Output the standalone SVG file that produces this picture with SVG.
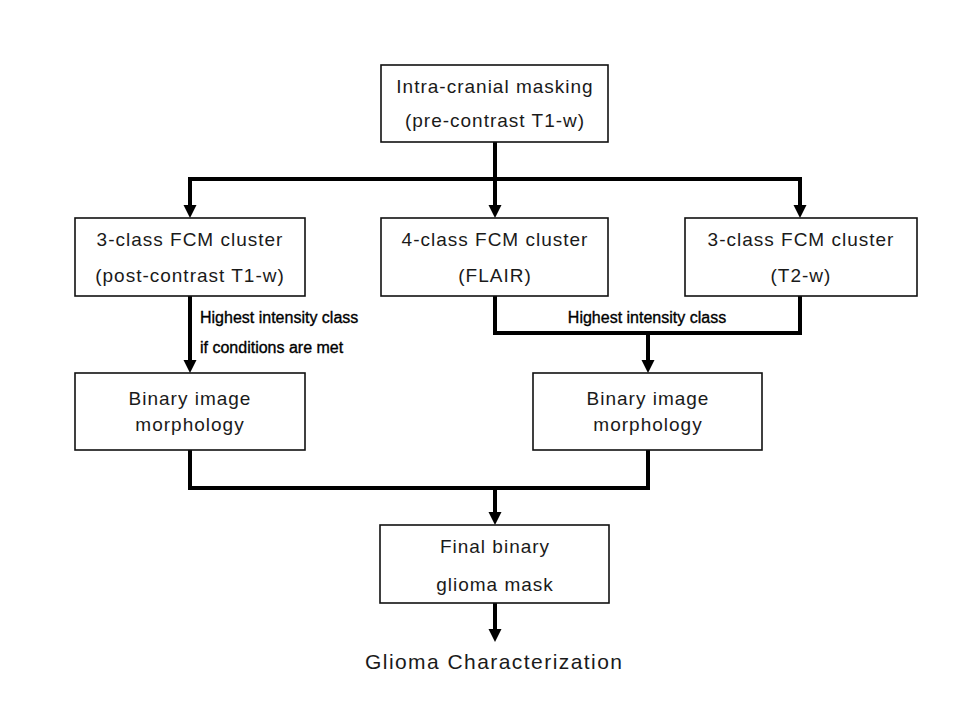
<svg xmlns="http://www.w3.org/2000/svg" width="979" height="727" viewBox="0 0 979 727">
<style>
.box{fill:#fff;stroke:#111;stroke-width:1.6}
.t{font-family:"Liberation Sans",Arial,sans-serif;font-size:19px;letter-spacing:1px;fill:#1a1a1a;text-anchor:middle}
.lbl{font-family:"Liberation Sans",Arial,sans-serif;font-size:16px;fill:#000;stroke:#000;stroke-width:0.35}
.c{fill:none;stroke:#000;stroke-width:4;stroke-linejoin:miter;stroke-linecap:square}
.ah{fill:#000}
</style>
<rect width="979" height="727" fill="#fff"/>
<g id="connectors">
<path class="c" d="M495,142 V179"/>
<path class="c" d="M190,179 H800"/>
<path class="c" d="M190,179 V206"/>
<path class="c" d="M495,179 V206"/>
<path class="c" d="M800,179 V206"/>
<path class="c" d="M190,296 V361"/>
<path class="c" d="M495,296 V333 H800 V296"/>
<path class="c" d="M648,333 V361"/>
<path class="c" d="M190,450 V488 H648 V450"/>
<path class="c" d="M495,488 V513"/>
<path class="c" d="M495,603 V630"/>
<polygon class="ah" points="183.5,205 196.5,205 190,218"/>
<polygon class="ah" points="488.5,205 501.5,205 495,218"/>
<polygon class="ah" points="793.5,205 806.5,205 800,218"/>
<polygon class="ah" points="183.5,360 196.5,360 190,373"/>
<polygon class="ah" points="641.5,360 654.5,360 648,373"/>
<polygon class="ah" points="488.5,512 501.5,512 495,525"/>
<polygon class="ah" points="488.5,629 501.5,629 495,642"/>
<text class="lbl" x="200" y="323">Highest intensity class</text>
<text class="lbl" x="200" y="353">if conditions are met</text>
<text class="lbl" x="647" y="323" text-anchor="middle">Highest intensity class</text>
</g>
<g id="n-mask">
<rect class="box" x="381" y="65" width="227" height="77"/>
<text class="t" x="495" y="93">Intra-cranial masking</text>
<text class="t" x="495" y="127">(pre-contrast T1-w)</text>
</g>
<g id="n-t1">
<rect class="box" x="75" y="218" width="230" height="78"/>
<text class="t" x="190" y="246">3-class FCM cluster</text>
<text class="t" x="190" y="282">(post-contrast T1-w)</text>
</g>
<g id="n-flair">
<rect class="box" x="381" y="218" width="227" height="78"/>
<text class="t" x="495" y="246">4-class FCM cluster</text>
<text class="t" x="495" y="282">(FLAIR)</text>
</g>
<g id="n-t2">
<rect class="box" x="685" y="218" width="232" height="78"/>
<text class="t" x="801" y="246">3-class FCM cluster</text>
<text class="t" x="801" y="282">(T2-w)</text>
</g>
<g id="n-bin1">
<rect class="box" x="75" y="373" width="230" height="77"/>
<text class="t" x="190" y="405">Binary image</text>
<text class="t" x="190" y="431">morphology</text>
</g>
<g id="n-bin2">
<rect class="box" x="533" y="373" width="229" height="77"/>
<text class="t" x="648" y="405">Binary image</text>
<text class="t" x="648" y="431">morphology</text>
</g>
<g id="n-final">
<rect class="box" x="380" y="525" width="229" height="78"/>
<text class="t" x="495" y="553">Final binary</text>
<text class="t" x="495" y="591">glioma mask</text>
</g>
<g id="n-char">
<text class="t" x="494" y="669" style="font-size:21px" textLength="258" lengthAdjust="spacing" text-anchor="middle">Glioma Characterization</text>
</g>
</svg>
